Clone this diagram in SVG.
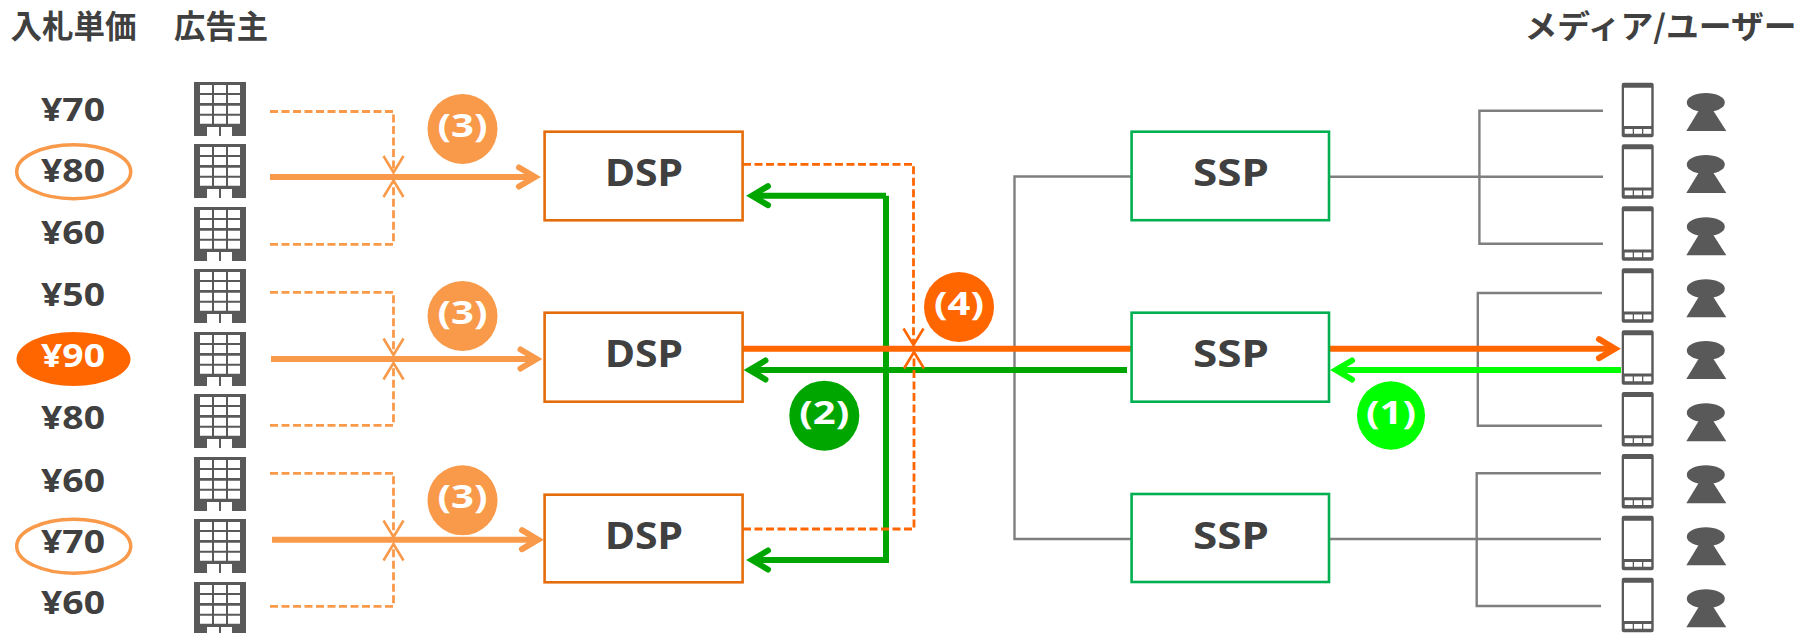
<svg xmlns="http://www.w3.org/2000/svg" xmlns:xlink="http://www.w3.org/1999/xlink" width="1800" height="633" viewBox="0 0 1800 633">
<style>
text{font-family:"Noto Sans","Noto Sans CJK JP",sans-serif;font-weight:700;fill:#404040}
.hd{font-family:"Noto Sans CJK JP","Noto Sans",sans-serif;font-size:32px}
.val{font-size:32px}
.box{font-size:38px;text-anchor:middle}
.num{font-size:32px;fill:#fff}
.dsp{fill:#fff;stroke:#E46C0A;stroke-width:2.6}
.ssp{fill:#fff;stroke:#00B050;stroke-width:2.6}
.ln{fill:none}
.gray{stroke:#7F7F7F;stroke-width:2.4}
.lo{stroke:#F9994A}
.do{stroke:#FF6600}
.dg{stroke:#00A600}
.lg{stroke:#00FF00}
.th{stroke-width:6}
.da{stroke-width:2.8;stroke-dasharray:8 3.5}
.ic{fill:#595959}
</style>
<defs>
<g id="bld"><path class="ic" fill-rule="evenodd" d="M0,0H52V54H38V45H27V54H25V45H13V54H0ZM6,3V11H18V3ZM20,3V11H32V3ZM34,3V11H46V3ZM6,13V21H18V13ZM20,13V21H32V13ZM34,13V21H46V13ZM6,23.7V31.7H18V23.7ZM20,23.7V31.7H32V23.7ZM34,23.7V31.7H46V23.7ZM6,33.7V41.7H18V33.7ZM20,33.7V41.7H32V33.7ZM34,33.7V41.7H46V33.7Z"/></g>
<g id="phone"><path class="ic" fill-rule="evenodd" d="M2,0H30Q32,0 32,2V52.5Q32,54.5 30,54.5H2Q0,54.5 0,52.5V2Q0,0 2,0ZM2.3,5V43.3H29.6V5ZM3,46.3V51H11V46.3ZM12.3,46.3V51H20.3V46.3ZM21.6,46.3V51H29.6V46.3Z"/></g>
<g id="user"><ellipse class="ic" cx="19" cy="9.5" rx="19" ry="9.5"/><path class="ic" d="M19,6L39.5,38H-0.5Z"/></g>
<marker id="hLO" markerUnits="userSpaceOnUse" markerWidth="40" markerHeight="40" refX="20" refY="20" orient="auto" viewBox="0 0 40 40" overflow="visible"><path d="M4,10.5L20,20L4,29.5" fill="none" stroke="#F9994A" stroke-width="6" stroke-linecap="round"/></marker>
<marker id="hDO" markerUnits="userSpaceOnUse" markerWidth="40" markerHeight="40" refX="20" refY="20" orient="auto" viewBox="0 0 40 40" overflow="visible"><path d="M4,10.5L20,20L4,29.5" fill="none" stroke="#FF6600" stroke-width="6" stroke-linecap="round"/></marker>
<marker id="hDG" markerUnits="userSpaceOnUse" markerWidth="40" markerHeight="40" refX="20" refY="20" orient="auto" viewBox="0 0 40 40" overflow="visible"><path d="M4,10.5L20,20L4,29.5" fill="none" stroke="#00A600" stroke-width="6" stroke-linecap="round"/></marker>
<marker id="hLG" markerUnits="userSpaceOnUse" markerWidth="40" markerHeight="40" refX="20" refY="20" orient="auto" viewBox="0 0 40 40" overflow="visible"><path d="M4,10.5L20,20L4,29.5" fill="none" stroke="#00FF00" stroke-width="6" stroke-linecap="round"/></marker>
<marker id="sLO" markerUnits="userSpaceOnUse" markerWidth="40" markerHeight="40" refX="20" refY="20" orient="auto" viewBox="0 0 40 40" overflow="visible"><path d="M3.5,10L20,20L3.5,30" fill="none" stroke="#F9994A" stroke-width="2.6"/></marker>
<marker id="sDO" markerUnits="userSpaceOnUse" markerWidth="40" markerHeight="40" refX="20" refY="20" orient="auto" viewBox="0 0 40 40" overflow="visible"><path d="M3.5,10L20,20L3.5,30" fill="none" stroke="#FF6600" stroke-width="2.6"/></marker>
</defs>

<g id="headers">
<text class="hd" x="10.5" y="38" textLength="126" lengthAdjust="spacingAndGlyphs">入札単価</text>
<text class="hd" x="174" y="38" textLength="94" lengthAdjust="spacingAndGlyphs">広告主</text>
<text class="hd" x="1524.5" y="38" textLength="272" lengthAdjust="spacingAndGlyphs">メディア/ユーザー</text>
</g>

<g id="connectors">
<g id="gray-lines">
<path class="ln gray" d="M1131,176.5H1014.5V539H1131"/>
<path class="ln gray" d="M1603,110.7H1479.4V243.7H1603M1329,176.7H1603"/>
<path class="ln gray" d="M1602,293H1477.8V425.7H1602"/>
<path class="ln gray" d="M1601,473.3H1476.7V606H1601M1329,539H1601"/>
</g>
<g id="bid-lines">
<path class="ln lo da" d="M270,111.5H393.5V172.5" marker-end="url(#sLO)"/>
<path class="ln lo da" d="M270,244.3H393.5V180.5" marker-end="url(#sLO)"/>
<path class="ln lo th" d="M270,177H535" marker-end="url(#hLO)"/>
<path class="ln lo da" d="M270,292.3H393.5V355" marker-end="url(#sLO)"/>
<path class="ln lo da" d="M270,425.3H393.5V363" marker-end="url(#sLO)"/>
<path class="ln lo th" d="M271,359H536.5" marker-end="url(#hLO)"/>
<path class="ln lo da" d="M270,473.3H393.5V537" marker-end="url(#sLO)"/>
<path class="ln lo da" d="M270,606.3H393.5V544" marker-end="url(#sLO)"/>
<path class="ln lo th" d="M272,539.7H538" marker-end="url(#hLO)"/>
</g>
<g id="response-lines">
<path class="ln dg th" d="M886,195.7V560H752" marker-end="url(#hDG)"/>
<path class="ln dg th" d="M886,195.7H752" marker-end="url(#hDG)"/>
<path class="ln dg th" d="M1127,370H749.5" marker-end="url(#hDG)"/>
<path class="ln do th" d="M743,348.7H1131M1329,348.7H1615" marker-end="url(#hDO)"/>
<path class="ln lg th" d="M1621,370H1336" marker-end="url(#hLG)"/>
<path class="ln do da" d="M743,164.3H913.5V345" marker-end="url(#sDO)"/>
<path class="ln do da" d="M743,529H914V352" marker-end="url(#sDO)"/>
</g>
</g>

<g id="prices">
<text class="val" x="41" y="121" textLength="64" lengthAdjust="spacingAndGlyphs">¥70</text>
<g id="price-80a"><ellipse cx="73.7" cy="171.7" rx="57" ry="27" fill="none" stroke="#F9994A" stroke-width="3.5"/><text class="val" x="41" y="181.7" textLength="64" lengthAdjust="spacingAndGlyphs">¥80</text></g>
<text class="val" x="41" y="244" textLength="64" lengthAdjust="spacingAndGlyphs">¥60</text>
<text class="val" x="41" y="306" textLength="64" lengthAdjust="spacingAndGlyphs">¥50</text>
<g id="price-90"><ellipse cx="73.5" cy="359" rx="57" ry="27" fill="#FF6600"/><text class="val" style="fill:#fff" x="41" y="367" textLength="64" lengthAdjust="spacingAndGlyphs">¥90</text></g>
<text class="val" x="41" y="429" textLength="64" lengthAdjust="spacingAndGlyphs">¥80</text>
<text class="val" x="41" y="491.5" textLength="64" lengthAdjust="spacingAndGlyphs">¥60</text>
<g id="price-70b"><ellipse cx="73.7" cy="546.2" rx="57" ry="27" fill="none" stroke="#F9994A" stroke-width="3.5"/><text class="val" x="41" y="553" textLength="64" lengthAdjust="spacingAndGlyphs">¥70</text></g>
<text class="val" x="41" y="614" textLength="64" lengthAdjust="spacingAndGlyphs">¥60</text>
</g>

<g id="advertisers">
<use href="#bld" x="194" y="82"/><use href="#bld" x="194" y="144"/><use href="#bld" x="194" y="207"/>
<use href="#bld" x="194" y="269"/><use href="#bld" x="194" y="332"/><use href="#bld" x="194" y="394"/>
<use href="#bld" x="194" y="457"/><use href="#bld" x="194" y="519"/><use href="#bld" x="194" y="582"/>
</g>

<g id="dsp1"><rect class="dsp" x="544.6" y="131.7" width="198" height="88.6"/><text class="box" x="644" y="186" textLength="78" lengthAdjust="spacingAndGlyphs">DSP</text></g>
<g id="dsp2"><rect class="dsp" x="544.6" y="312.7" width="198" height="89"/><text class="box" x="644" y="367" textLength="78" lengthAdjust="spacingAndGlyphs">DSP</text></g>
<g id="dsp3"><rect class="dsp" x="544.6" y="494.7" width="198" height="87.6"/><text class="box" x="644" y="549" textLength="78" lengthAdjust="spacingAndGlyphs">DSP</text></g>
<g id="ssp1"><rect class="ssp" x="1131.6" y="131.7" width="197.4" height="88.5"/><text class="box" x="1231" y="186" textLength="76" lengthAdjust="spacingAndGlyphs">SSP</text></g>
<g id="ssp2"><rect class="ssp" x="1131.6" y="312.7" width="197.4" height="89"/><text class="box" x="1231" y="367" textLength="76" lengthAdjust="spacingAndGlyphs">SSP</text></g>
<g id="ssp3"><rect class="ssp" x="1131.6" y="494" width="197.4" height="88"/><text class="box" x="1231" y="549" textLength="76" lengthAdjust="spacingAndGlyphs">SSP</text></g>

<g id="badge-3a"><ellipse cx="462.5" cy="129" rx="35" ry="35" fill="#F9994A"/><text class="num" x="437.5" y="136.7" textLength="50" lengthAdjust="spacingAndGlyphs">(3)</text></g>
<g id="badge-3b"><ellipse cx="462.5" cy="316" rx="35" ry="35" fill="#F9994A"/><text class="num" x="437.5" y="323.7" textLength="50" lengthAdjust="spacingAndGlyphs">(3)</text></g>
<g id="badge-3c"><ellipse cx="462.5" cy="500.3" rx="35" ry="35" fill="#F9994A"/><text class="num" x="437.5" y="508" textLength="50" lengthAdjust="spacingAndGlyphs">(3)</text></g>
<g id="badge-4"><ellipse cx="959" cy="307" rx="35" ry="35" fill="#FF6600"/><text class="num" x="934" y="315" textLength="50" lengthAdjust="spacingAndGlyphs">(4)</text></g>
<g id="badge-2"><ellipse cx="824.3" cy="415.7" rx="35" ry="35" fill="#00A600"/><text class="num" x="799.3" y="423.7" textLength="50" lengthAdjust="spacingAndGlyphs">(2)</text></g>
<g id="badge-1"><ellipse cx="1391" cy="415.5" rx="34" ry="34.2" fill="#00FF00"/><text class="num" x="1366" y="423.7" textLength="50" lengthAdjust="spacingAndGlyphs">(1)</text></g>

<g id="media">
<use href="#phone" x="1621.7" y="82.7"/><use href="#phone" x="1621.7" y="144.3"/><use href="#phone" x="1621.7" y="206.3"/>
<use href="#phone" x="1621.7" y="268.3"/><use href="#phone" x="1621.7" y="330.3"/><use href="#phone" x="1621.7" y="392"/>
<use href="#phone" x="1621.7" y="454"/><use href="#phone" x="1621.7" y="515.7"/><use href="#phone" x="1621.7" y="577.7"/>
</g>
<g id="users">
<use href="#user" x="1686.8" y="93"/><use href="#user" x="1686.8" y="155"/><use href="#user" x="1686.8" y="217.3"/>
<use href="#user" x="1686.8" y="279.3"/><use href="#user" x="1686.8" y="341"/><use href="#user" x="1686.8" y="403.3"/>
<use href="#user" x="1686.8" y="465.3"/><use href="#user" x="1686.8" y="527.3"/><use href="#user" x="1686.8" y="589.3"/>
</g>
</svg>
